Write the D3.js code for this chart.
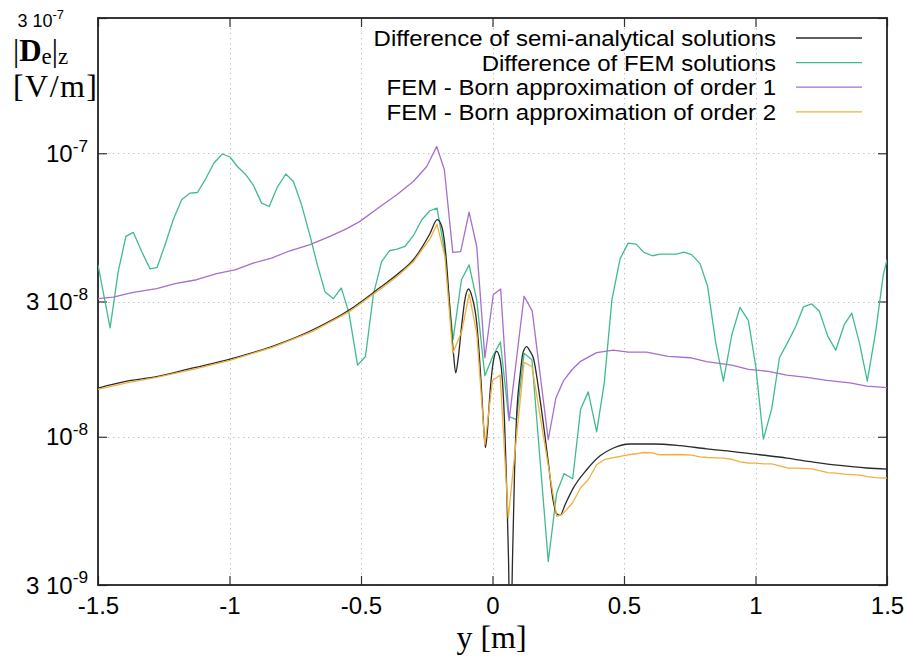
<!DOCTYPE html>
<html><head><meta charset="utf-8">
<script src="https://cdn.jsdelivr.net/npm/d3@7"></script>
<style>body{margin:0;background:#fff}svg{display:block}</style>
</head><body>
<svg id="c" width="910" height="666"></svg>
<script>
// ---------------- data ----------------
const xTicks = [-1.5, -1, -0.5, 0, 0.5, 1, 1.5];
const yTicks = [3e-9, 1e-8, 3e-8, 1e-7, 3e-7];
const seriesNames = [
  "Difference of semi-analytical solutions",
  "Difference of FEM solutions",
  "FEM - Born approximation of order 1",
  "FEM - Born approximation of order 2"
];
const seriesColors = ["#2a2a2a", "#40bb8e", "#a56fcc", "#f0b040"];

// [y (m), |De|z (V/m)]
const semiAnalytical = [
  [-1.5,1.485e-8],[-1.391,1.57e-8],[-1.277,1.63e-8],[-1.138,1.75e-8],[-0.998,1.88e-8],
  [-0.834,2.09e-8],[-0.681,2.39e-8],[-0.542,2.81e-8],[-0.428,3.36e-8],[-0.364,3.73e-8],
  [-0.301,4.21e-8],[-0.238,5.20e-8],[-0.210,5.83e-8],[-0.193,5.52e-8],[-0.177,4.35e-8],
  [-0.162,2.81e-8],[-0.148,1.95e-8],[-0.140,1.68e-8],[-0.131,1.87e-8],[-0.117,2.48e-8],
  [-0.105,3.04e-8],[-0.091,3.32e-8],[-0.078,3.12e-8],[-0.060,2.52e-8],[-0.044,1.59e-8],
  [-0.034,1.10e-8],[-0.027,9.15e-9],[-0.019,1.06e-8],[-0.010,1.41e-8],[0.003,1.84e-8],
  [0.016,2.00e-8],[0.029,1.87e-8],[0.042,1.35e-8],[0.053,7.05e-9],[0.061,3.68e-9],
  [0.068,1.5e-9],[0.076,3.68e-9],[0.084,7.65e-9],[0.093,1.25e-8],[0.105,1.65e-8],
  [0.116,1.98e-8],[0.130,2.08e-8],[0.143,2.00e-8],[0.155,1.90e-8],[0.181,1.35e-8],
  [0.211,8.30e-9],[0.230,6.00e-9],[0.244,5.35e-9],[0.257,5.28e-9],[0.276,5.76e-9],
  [0.307,6.59e-9],[0.358,7.65e-9],[0.409,8.57e-9],[0.458,9.11e-9],[0.523,9.43e-9],
  [0.611,9.43e-9],[0.713,9.30e-9],[0.814,9.07e-9],[0.916,8.87e-9],[1.017,8.64e-9],
  [1.119,8.41e-9],[1.220,8.14e-9],[1.321,7.92e-9],[1.423,7.76e-9],[1.5,7.69e-9]
];

const femDifference = [
  [-1.5,4.04e-8],[-1.454,2.42e-8],[-1.423,3.83e-8],[-1.394,5.09e-8],[-1.366,5.26e-8],
  [-1.334,4.50e-8],[-1.302,3.91e-8],[-1.275,3.96e-8],[-1.245,4.76e-8],[-1.214,5.83e-8],
  [-1.182,6.85e-8],[-1.150,7.24e-8],[-1.122,7.27e-8],[-1.091,8.11e-8],[-1.059,9.24e-8],
  [-1.027,9.94e-8],[-0.998,9.70e-8],[-0.970,8.98e-8],[-0.938,8.40e-8],[-0.910,7.74e-8],
  [-0.878,6.67e-8],[-0.849,6.49e-8],[-0.818,7.60e-8],[-0.786,8.45e-8],[-0.757,7.95e-8],
  [-0.726,6.58e-8],[-0.694,5.12e-8],[-0.666,4.04e-8],[-0.637,3.25e-8],[-0.605,3.07e-8],
  [-0.575,3.35e-8],[-0.546,2.74e-8],[-0.513,1.79e-8],[-0.483,1.92e-8],[-0.453,3.17e-8],
  [-0.422,4.14e-8],[-0.392,4.53e-8],[-0.363,4.59e-8],[-0.333,4.69e-8],[-0.301,5.12e-8],
  [-0.269,5.83e-8],[-0.238,6.27e-8],[-0.211,6.41e-8],[-0.181,4.46e-8],[-0.150,2.20e-8],
  [-0.118,3.58e-8],[-0.089,4.04e-8],[-0.060,3.04e-8],[-0.029,1.64e-8],[0.002,1.93e-8],
  [0.030,2.16e-8],[0.061,1.18e-8],[0.091,1.15e-8],[0.120,1.97e-8],[0.150,1.87e-8],
  [0.212,3.63e-9],[0.244,6.33e-9],[0.272,7.41e-9],[0.305,7.11e-9],[0.335,1.25e-8],
  [0.364,1.44e-8],[0.396,1.04e-8],[0.425,1.55e-8],[0.454,3.04e-8],[0.485,4.24e-8],
  [0.516,4.82e-8],[0.546,4.78e-8],[0.576,4.47e-8],[0.608,4.35e-8],[0.637,4.41e-8],
  [0.668,4.41e-8],[0.700,4.41e-8],[0.728,4.48e-8],[0.757,4.39e-8],[0.789,4.08e-8],
  [0.818,3.39e-8],[0.849,2.14e-8],[0.878,1.57e-8],[0.910,2.29e-8],[0.941,2.86e-8],
  [0.973,2.57e-8],[1.001,1.77e-8],[1.030,9.81e-9],[1.062,1.26e-8],[1.091,1.90e-8],
  [1.121,2.14e-8],[1.153,2.45e-8],[1.182,2.87e-8],[1.214,2.94e-8],[1.243,2.77e-8],
  [1.275,2.26e-8],[1.305,2.02e-8],[1.337,2.48e-8],[1.366,2.73e-8],[1.397,2.11e-8],
  [1.425,1.57e-8],[1.457,2.35e-8],[1.486,3.73e-8],[1.5,4.21e-8]
];

const bornOrder1 = [
  [-1.5,3.07e-8],[-1.442,3.11e-8],[-1.366,3.23e-8],[-1.277,3.33e-8],[-1.207,3.47e-8],
  [-1.125,3.58e-8],[-1.049,3.76e-8],[-0.979,3.88e-8],[-0.910,4.10e-8],[-0.840,4.27e-8],
  [-0.770,4.53e-8],[-0.694,4.76e-8],[-0.618,5.09e-8],[-0.554,5.42e-8],[-0.504,5.75e-8],
  [-0.428,6.48e-8],[-0.364,7.14e-8],[-0.301,7.95e-8],[-0.250,8.98e-8],[-0.212,1.057e-7],
  [-0.183,8.75e-8],[-0.151,4.47e-8],[-0.121,4.50e-8],[-0.089,6.20e-8],[-0.060,4.69e-8],
  [-0.029,1.90e-8],[0.003,3.17e-8],[0.031,3.32e-8],[0.063,1.14e-8],[0.120,3.13e-8],
  [0.151,2.78e-8],[0.212,9.76e-9],[0.241,1.37e-8],[0.269,1.57e-8],[0.301,1.72e-8],
  [0.333,1.84e-8],[0.396,1.98e-8],[0.459,2.02e-8],[0.516,1.99e-8],[0.586,1.99e-8],
  [0.668,1.92e-8],[0.751,1.90e-8],[0.814,1.84e-8],[0.910,1.79e-8],[0.973,1.73e-8],
  [1.049,1.70e-8],[1.119,1.65e-8],[1.195,1.62e-8],[1.271,1.58e-8],[1.359,1.55e-8],
  [1.423,1.51e-8],[1.5,1.49e-8]
];

const bornOrder2 = [
  [-1.5,1.47e-8],[-1.391,1.55e-8],[-1.277,1.62e-8],[-1.138,1.73e-8],[-0.998,1.86e-8],
  [-0.834,2.07e-8],[-0.681,2.36e-8],[-0.542,2.77e-8],[-0.428,3.31e-8],[-0.364,3.67e-8],
  [-0.301,4.14e-8],[-0.238,4.99e-8],[-0.211,5.62e-8],[-0.181,4.33e-8],[-0.151,1.97e-8],
  [-0.117,2.35e-8],[-0.089,3.19e-8],[-0.060,2.32e-8],[-0.029,9.37e-9],[0.000,1.58e-8],
  [0.029,1.65e-8],[0.060,5.17e-9],[0.120,1.83e-8],[0.150,1.77e-8],[0.244,5.24e-9],
  [0.263,5.30e-9],[0.305,5.85e-9],[0.335,6.61e-9],[0.364,7.05e-9],[0.396,7.97e-9],
  [0.425,8.30e-9],[0.454,8.43e-9],[0.485,8.52e-9],[0.516,8.64e-9],[0.546,8.71e-9],
  [0.576,8.80e-9],[0.608,8.78e-9],[0.637,8.64e-9],[0.668,8.64e-9],[0.700,8.66e-9],
  [0.728,8.64e-9],[0.757,8.61e-9],[0.789,8.50e-9],[0.818,8.45e-9],[0.849,8.43e-9],
  [0.878,8.41e-9],[0.910,8.33e-9],[0.941,8.16e-9],[0.973,8.08e-9],[1.001,8.07e-9],
  [1.030,8.03e-9],[1.062,8.02e-9],[1.091,7.90e-9],[1.121,7.76e-9],[1.153,7.75e-9],
  [1.182,7.74e-9],[1.214,7.70e-9],[1.243,7.59e-9],[1.275,7.47e-9],[1.305,7.44e-9],
  [1.337,7.38e-9],[1.366,7.35e-9],[1.397,7.32e-9],[1.425,7.23e-9],[1.457,7.18e-9],
  [1.5,7.15e-9]
];

// ---------------- chart ----------------
const svg = d3.select('#c');
const L = 98, R = 887, T = 18, B = 585;
const x = d3.scaleLinear().domain([-1.5, 1.5]).range([L, R]);
const y = d3.scaleLog().domain([3e-9, 3e-7]).range([B, T]);
const sans = "'Liberation Sans', Arial, Helvetica, sans-serif";
const serif = "'Liberation Serif', 'Times New Roman', serif";

svg.append('rect').attr('width', 910).attr('height', 666).attr('fill', '#fff');

// grid
const grid = svg.append('g').attr('stroke', '#c4c4c4').attr('stroke-width', 1)
  .attr('stroke-dasharray', '1.5,3.5');
grid.selectAll('line.gx').data(xTicks.filter(t => t > -1.5 && t < 1.5)).join('line')
  .attr('x1', d => Math.round(x(d)) + 0.5).attr('x2', d => Math.round(x(d)) + 0.5)
  .attr('y1', T).attr('y2', B);
grid.selectAll('line.gy').data(yTicks.filter(t => t > 3e-9 && t < 3e-7)).join('line')
  .attr('y1', d => Math.round(y(d)) + 0.5).attr('y2', d => Math.round(y(d)) + 0.5)
  .attr('x1', L).attr('x2', R);

// axes (inward ticks, mirrored)
function styleAxis(g) {
  g.select('.domain').remove();
  g.selectAll('.tick line').attr('stroke', '#333').attr('stroke-width', 1.2);
}
svg.append('g').attr('transform', `translate(0,${B})`)
  .call(d3.axisBottom(x).tickValues(xTicks).tickSize(-9).tickPadding(12))
  .call(styleAxis)
  .call(g => g.selectAll('.tick text').attr('font-family', sans).attr('font-size', 24)
    .attr('fill', '#000').text(d => String(d)));
svg.append('g').attr('transform', `translate(0,${T})`)
  .call(d3.axisTop(x).tickValues(xTicks).tickSize(-9).tickFormat(''))
  .call(styleAxis);
svg.append('g').attr('transform', `translate(${L},0)`)
  .call(d3.axisLeft(y).tickValues(yTicks).tickSize(-9).tickFormat(''))
  .call(styleAxis);
svg.append('g').attr('transform', `translate(${R},0)`)
  .call(d3.axisRight(y).tickValues(yTicks).tickSize(-9).tickFormat(''))
  .call(styleAxis);

// y tick labels  "m 10^e"
function addPowLabel(v, xr, base, fs) {
  const e = Math.floor(Math.log10(v) + 1e-9);
  const m = Math.round(v / Math.pow(10, e));
  const t = svg.append('text').attr('x', xr).attr('y', base)
    .attr('text-anchor', 'end').attr('font-family', sans).attr('font-size', fs).attr('fill', '#000');
  t.append('tspan').text((m === 1 ? '' : m + ' ') + '10');
  t.append('tspan').attr('dy', -fs * 0.42).attr('font-size', fs * 0.72).text(String(e));
}
yTicks.forEach(v => {
  if (v === 3e-7) addPowLabel(v, 64, 27, 18);
  else addPowLabel(v, 88, y(v) + 8.5, 24);
});

// frame
svg.append('rect').attr('x', L).attr('y', T).attr('width', R - L).attr('height', B - T)
  .attr('fill', 'none').attr('stroke', '#222').attr('stroke-width', 1.8);

// clip
svg.append('clipPath').attr('id', 'clip').append('rect')
  .attr('x', L).attr('y', T).attr('width', R - L).attr('height', B - T);

const lineLinear = d3.line().x(d => x(d[0])).y(d => y(d[1]));
const lineSmooth = d3.line().x(d => x(d[0])).y(d => y(d[1])).curve(d3.curveMonotoneX);

const plot = svg.append('g').attr('clip-path', 'url(#clip)').attr('fill', 'none')
  .attr('stroke-width', 1.3).attr('stroke-linejoin', 'round');
plot.append('path').attr('d', lineLinear(femDifference)).attr('stroke', seriesColors[1]);
plot.append('path').attr('d', lineLinear(bornOrder1)).attr('stroke', seriesColors[2]);
plot.append('path').attr('d', lineSmooth(semiAnalytical)).attr('stroke', seriesColors[0]);
plot.append('path').attr('d', lineLinear(bornOrder2)).attr('stroke', seriesColors[3]);

// legend: text measured at 24px, drawn at 22px stretched to the same width
const legY0 = 38, legDy = 24.6;
seriesNames.forEach((name, i) => {
  const cy = legY0 + i * legDy;
  const t = svg.append('text').attr('x', 776).attr('y', cy + 8).attr('text-anchor', 'end')
    .attr('font-family', sans).attr('font-size', 24).attr('fill', '#000').text(name);
  const w = t.node().getComputedTextLength();
  t.attr('font-size', 22).attr('textLength', w).attr('lengthAdjust', 'spacingAndGlyphs');
  svg.append('line').attr('x1', 796).attr('x2', 862).attr('y1', cy).attr('y2', cy)
    .attr('stroke', seriesColors[i]).attr('stroke-width', 1.3);
});

// axis titles
const yt = svg.append('text').attr('x', 13).attr('y', 61).attr('font-family', serif)
  .attr('font-size', 31).attr('fill', '#000');
yt.append('tspan').text('|');
yt.append('tspan').attr('font-weight', 'bold').text('D');
yt.append('tspan').attr('font-size', 23).attr('dy', 3).text('e');
yt.append('tspan').attr('dy', -3).text('|');
yt.append('tspan').attr('font-size', 23).attr('dy', 3).text('z');
svg.append('text').attr('x', 13).attr('y', 97).attr('font-family', serif)
  .attr('font-size', 32).attr('fill', '#000').attr('textLength', 84).text('[V/m]');
svg.append('text').attr('x', (L + R) / 2 - 1).attr('y', 648).attr('text-anchor', 'middle')
  .attr('font-family', serif).attr('font-size', 32).attr('fill', '#000').text('y [m]');
</script>
</body></html>
